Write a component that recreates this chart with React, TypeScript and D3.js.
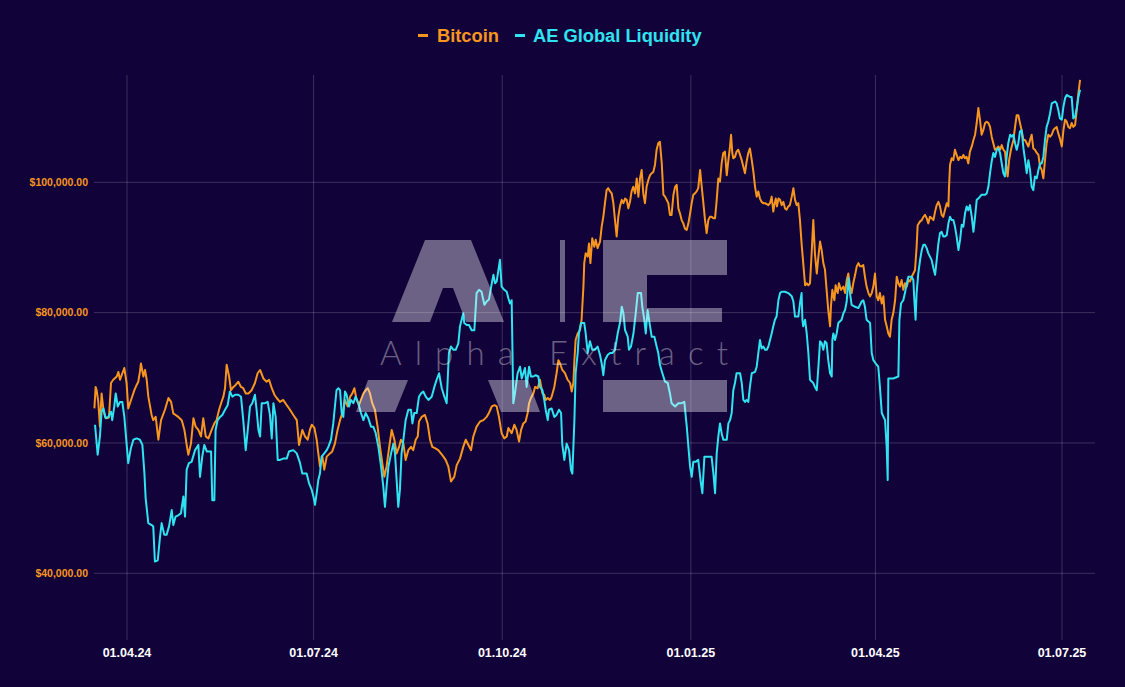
import React from "react";
import * as d3 from "d3";

// ---- data (day offsets from 01.04.2024, values in thousands of USD) ----
const btcSeries: [number, number][] = [
[-15.9,65.3],[-15.3,68.6],[-14.8,68.1],[-14.0,66.3],[-13.2,62.5],[-12.4,67.6],[-11.5,65.1],[-10.7,64.0],[-9.9,63.8],[-8.8,63.9],[-7.8,69.2],[-6.7,69.7],[-5.0,70.2],[-4.2,70.9],[-3.4,69.7],[-2.6,70.4],[-1.3,71.5],[-0.2,69.2],[0.6,65.3],[2.3,66.9],[3.6,68.1],[4.7,68.9],[5.5,69.4],[6.3,70.9],[6.8,72.2],[8.0,70.2],[8.8,71.2],[9.6,69.7],[10.4,67.1],[12.0,64.3],[12.8,63.5],[14.0,64.0],[15.3,60.5],[16.6,63.5],[18.5,65.1],[20.2,66.9],[21.5,66.3],[22.6,64.5],[23.7,64.3],[25.0,64.0],[26.7,63.5],[28.0,62.0],[29.1,59.7],[29.9,58.2],[31.2,59.9],[32.4,63.8],[33.5,62.5],[34.8,62.0],[36.1,61.0],[37.2,63.8],[38.4,61.0],[39.7,60.7],[41.3,62.0],[42.6,63.0],[43.7,63.5],[44.9,65.1],[45.9,66.1],[47.0,67.1],[47.8,68.4],[48.6,72.0],[49.8,70.2],[50.7,68.1],[51.9,68.6],[53.0,68.9],[54.3,69.4],[55.6,68.6],[56.7,68.4],[57.9,67.6],[59.2,67.6],[60.8,68.1],[62.4,69.2],[63.7,70.7],[64.9,71.2],[66.5,69.9],[68.1,69.4],[69.3,69.7],[70.6,68.4],[71.9,67.4],[73.0,66.9],[74.6,66.3],[76.2,66.6],[77.9,65.8],[79.5,65.1],[81.1,64.3],[82.8,63.5],[83.9,59.7],
[85.5,62.0],[86.8,61.0],[88.1,60.5],[89.2,62.0],[90.1,62.8],[91.4,62.3],[92.5,60.5],[93.3,58.4],[94.1,56.4],[95.3,57.9],[96.2,55.9],[97.4,57.9],[99.0,58.4],[100.1,58.7],[101.4,59.9],[102.7,62.0],[103.9,63.5],[105.5,65.1],[106.3,66.6],[107.6,65.6],[108.8,67.1],[109.9,67.6],[110.9,68.4],[112.0,66.6],[113.1,65.8],[114.4,66.9],[115.3,67.6],[116.4,68.1],[117.4,68.4],[118.5,67.6],[119.6,66.1],[120.9,65.1],[122.2,62.5],[123.4,59.4],[124.5,56.9],[125.5,54.8],[126.6,56.4],[127.8,59.2],[129.1,62.0],[130.4,60.5],[131.5,58.4],[132.7,59.4],[133.6,60.5],[134.8,59.9],[135.9,57.4],[137.2,58.9],[138.5,59.4],[139.6,58.9],[140.8,60.5],[141.8,61.0],[142.4,63.3],[143.7,64.0],[145.3,64.3],[146.6,63.0],[147.8,60.5],[148.9,59.4],[150.2,59.2],[151.8,58.9],[153.1,58.4],[154.3,57.9],[155.4,57.4],[156.7,56.4],[158.0,54.1],[159.6,54.8],[160.8,56.6],[162.4,57.6],[164.0,59.4],[165.2,60.5],[166.5,59.7],[167.8,58.9],[168.9,61.0],[170.5,62.5],[172.2,63.3],[173.8,63.5],[175.4,64.0],[176.5,64.6],[177.9,65.6],[179.2,65.8],[180.3,65.6],[181.4,64.0],[182.7,61.5],[184.0,60.7],[185.2,61.0],
[186.0,62.3],[187.6,61.5],[188.9,62.8],[190.0,62.0],[191.2,60.2],[192.2,62.0],[193.3,63.0],[194.4,63.3],[195.4,64.6],[196.1,66.1],[197.0,66.9],[198.2,67.6],[199.0,68.6],[200.3,68.4],[201.4,69.7],[202.6,67.6],[203.5,67.4],[204.2,66.6],[205.2,66.9],[206.3,66.6],[207.1,67.1],[208.4,68.6],[209.5,70.7],[210.4,72.7],[211.2,72.2],[212.3,71.2],[213.6,70.7],[214.9,69.7],[216.1,69.2],[216.9,67.9],[217.7,69.2],[218.2,72.7],[218.8,75.8],[219.8,76.8],[220.9,77.3],[221.7,78.9],[222.6,84.0],[223.0,87.6],[223.7,89.1],[224.7,88.6],[225.3,90.6],[226.0,87.6],[226.9,91.4],[227.9,90.1],[228.6,91.2],[229.5,89.9],[230.7,90.9],[231.5,93.2],[232.3,94.7],[233.1,96.8],[233.9,98.8],[234.7,99.1],[235.6,98.6],[236.4,98.3],[237.2,96.8],[238.0,94.2],[238.8,91.7],[239.6,94.7],[240.4,96.3],[241.3,97.3],[242.1,96.8],[242.9,97.5],[243.7,97.3],[244.5,96.0],[245.3,97.0],[246.1,98.6],[246.9,99.3],[247.8,98.3],[248.6,100.6],[249.4,97.8],[250.2,100.6],[251.0,101.9],[251.8,98.3],[252.6,96.8],[253.4,99.3],[254.3,100.4],[255.1,101.1],[255.9,101.4],[256.7,101.6],[257.5,102.7],[258.3,105.0],[259.1,106.0],[259.9,106.2],[260.8,102.9],[261.6,98.1],[262.4,97.8],[263.2,97.3],[264.0,96.8],[264.8,95.0],[265.6,95.0],[266.5,98.1],[267.3,99.3],[268.1,99.6],[268.9,96.0],[269.7,95.2],[270.5,94.2],[271.3,93.7],[272.1,92.9],[273.0,92.7],[273.8,93.7],[274.6,95.2],[275.4,96.8],[276.2,98.1],[277.0,98.3],[277.8,98.6],[278.6,99.1],[279.5,101.9],[280.3,99.3],[281.1,96.8],[281.9,94.2],[282.7,92.2],[283.5,94.2],[284.3,94.7],[285.1,94.7],[286.0,94.5],[286.8,94.5],
[287.6,97.3],[288.4,100.6],[289.2,100.1],[290.0,102.9],[290.8,104.5],[291.6,104.7],[292.5,101.1],[293.3,103.4],[294.1,105.5],[294.6,107.3],[295.2,104.5],[295.7,103.7],[296.5,103.9],[297.3,104.7],[298.1,105.0],[299.0,104.2],[299.8,103.4],[300.6,102.4],[301.4,101.4],[302.2,103.2],[303.0,104.5],[303.8,105.2],[304.7,103.4],[305.5,101.6],[306.3,99.3],[307.1,97.8],[307.9,98.6],[308.7,97.5],[309.5,97.0],[310.3,96.8],[311.2,96.8],[312.8,96.5],[313.6,96.8],[314.4,97.8],[315.2,95.5],[315.7,96.5],[316.4,97.5],[317.0,96.3],[317.7,97.5],[318.5,97.3],[319.3,96.5],[320.1,97.0],[320.9,96.0],[321.7,95.8],[322.5,96.3],[323.3,96.5],[324.2,97.8],[325.0,99.1],[325.8,97.3],[326.6,96.5],[327.4,96.8],[328.2,94.2],[329.0,90.6],[329.8,87.6],[330.7,84.2],[331.5,84.5],[332.3,84.2],[333.1,84.5],[333.9,89.1],[334.7,94.2],[335.5,89.1],[336.4,86.0],[337.2,88.6],[338.0,90.9],[338.8,89.6],[339.6,87.6],[340.4,86.6],[341.2,83.5],[342.0,80.4],[342.9,77.9],[343.3,80.9],[344.0,83.5],[345.0,81.9],[345.6,84.2],[346.6,83.0],[347.2,84.5],[348.2,83.5],[349.4,84.0],[350.2,83.0],[351.0,85.0],[351.8,86.0],[352.6,84.0],[353.4,83.0],[354.2,84.5],[355.1,85.8],[355.9,87.1],[356.7,87.6],[357.5,87.1],[358.3,87.1],[359.1,87.3],[359.9,85.5],[360.7,84.0],[361.6,83.0],[362.4,82.5],[363.2,83.0],[364.0,84.0],[364.8,86.0],[365.6,82.5],[366.4,81.9],[367.2,83.0],[368.1,81.4],[368.9,82.5],[369.7,78.9],[370.5,77.9],[371.3,76.8],[372.1,76.3],[372.9,78.9],[373.7,79.9],[374.6,81.9],[375.4,85.5],[376.2,84.5],[377.0,84.0],[377.8,85.0],[378.6,83.5],[379.4,84.5],[380.3,84.0],[381.1,85.0],
[381.9,84.8],[382.7,85.5],[383.5,86.0],[384.3,86.5],[385.1,90.1],[385.6,93.4],[386.8,94.0],[387.6,94.2],[388.4,94.7],[389.2,95.0],[390.0,94.5],[390.8,93.7],[391.6,94.7],[392.4,94.5],[393.3,94.2],[394.1,95.5],[394.9,96.5],[395.7,97.0],[396.5,96.3],[397.3,95.0],[398.1,94.7],[398.9,95.7],[399.8,96.8],[400.6,96.3],[400.9,99.3],[401.4,102.7],[402.2,103.7],[403.0,103.4],[403.8,105.0],[404.6,104.2],[405.5,103.4],[406.3,103.9],[407.1,103.7],[407.9,104.2],[408.7,103.7],[409.5,103.9],[410.3,102.9],[411.1,104.7],[412.0,105.5],[412.8,106.5],[413.6,107.3],[414.4,109.1],[415.2,111.4],[416.0,109.6],[416.8,107.3],[417.6,108.0],[418.5,109.1],[419.3,109.3],[420.1,109.1],[420.9,108.5],[421.7,107.0],[422.5,106.0],[423.3,105.0],[424.2,105.2],[425.0,105.5],[425.8,105.0],[426.6,105.7],[427.4,105.0],[428.2,104.7],[429.0,101.9],[429.5,100.9],[430.2,103.4],[431.1,105.0],[432.3,106.5],[433.1,108.5],[433.9,110.3],[434.7,110.3],[435.5,109.1],[436.3,108.0],[437.2,106.5],[438.0,106.5],[438.8,106.0],[439.6,105.5],[440.4,106.5],[441.2,107.3],[442.0,105.2],[442.8,105.0],[443.7,104.5],[444.5,104.2],[445.3,102.4],[446.1,101.9],[446.9,100.6],[447.7,103.4],[448.5,106.0],[449.3,107.3],[450.2,107.0],[451.0,107.3],[451.8,108.0],[452.6,108.3],[453.4,108.5],[454.2,107.5],[455.0,106.7],[455.9,105.5],[456.7,108.0],[457.5,109.6],[458.3,109.3],[459.1,108.5],[459.9,108.3],[460.7,109.1],[461.5,108.5],[462.4,108.8],[463.2,111.1],[464.0,113.7],[464.8,115.7]
];

const liquiditySeries: [number, number][] = [
[-15.6,62.8],[-14.3,58.2],[-13.2,61.0],[-12.4,64.8],[-11.5,65.3],[-10.4,63.8],[-9.1,64.0],[-7.8,64.8],[-7.2,63.5],[-6.2,65.6],[-5.5,67.6],[-4.5,65.6],[-3.4,66.3],[-2.3,66.3],[-1.3,64.0],[-0.2,59.9],[0.6,56.9],[1.9,59.2],[3.1,60.5],[4.7,60.7],[6.3,60.5],[7.5,59.7],[8.5,55.3],[9.1,51.5],[10.4,47.7],[12.0,47.4],[12.8,47.2],[13.6,41.8],[15.0,42.0],[16.1,45.6],[16.9,47.7],[18.2,45.9],[19.3,45.9],[20.5,47.2],[21.8,49.7],[22.6,47.4],[23.7,48.7],[25.0,48.9],[26.3,49.2],[27.5,51.8],[28.3,48.7],[29.1,55.9],[30.2,56.9],[31.5,57.1],[33.2,58.9],[34.8,59.7],[35.6,54.8],[36.7,57.9],[37.7,59.7],[38.9,58.7],[40.0,58.7],[41.0,58.7],[41.6,51.2],[42.6,51.2],[43.2,62.0],[44.2,63.5],[45.4,64.0],[46.5,64.3],[47.8,65.1],[49.1,65.8],[50.2,67.9],[51.4,67.1],[52.7,67.4],[54.3,67.4],[55.6,67.1],[56.7,63.5],[57.9,58.9],[58.9,62.0],[60.0,65.6],[61.1,66.1],[62.4,67.4],[63.2,65.1],[64.1,62.0],[64.9,61.0],[65.7,66.1],[67.3,66.1],[68.6,66.3],[69.7,64.3],[70.6,60.7],[71.4,66.1],[72.5,64.0],[73.5,57.4],[74.6,57.4],[76.2,57.6],[77.9,57.6],[79.0,58.7],[81.1,58.9],[82.8,58.4],[84.4,56.9],[85.5,55.3],
[86.5,55.3],[87.6,55.3],[88.8,53.8],[90.1,52.8],[90.9,51.8],[91.7,50.5],[92.5,52.3],[93.3,54.3],[94.1,55.3],[94.9,57.9],[96.2,58.4],[97.4,58.9],[98.2,59.4],[99.5,60.5],[100.6,63.0],[101.4,65.6],[102.2,68.1],[103.1,68.4],[103.9,68.1],[104.7,64.6],[105.5,64.0],[106.3,67.9],[107.1,67.4],[108.3,65.6],[109.2,66.6],[110.4,66.1],[111.5,67.1],[112.8,66.1],[114.1,64.6],[115.3,63.5],[116.4,64.6],[117.7,63.8],[119.0,62.5],[120.1,62.5],[121.3,61.5],[122.6,59.4],[123.9,56.4],[125.0,53.3],[125.8,50.2],[126.6,53.3],[127.5,56.4],[128.8,58.4],[129.9,59.9],[130.7,58.4],[131.5,54.3],[132.3,50.2],[133.1,52.8],[133.9,58.4],[134.8,60.5],[135.9,63.5],[137.2,65.1],[138.5,65.1],[139.2,63.0],[140.1,64.6],[141.3,64.6],[142.4,67.1],[143.4,67.6],[144.5,67.9],[145.7,67.1],[147.0,66.6],[148.6,67.1],[149.9,68.6],[151.0,69.7],[152.2,70.7],[153.5,68.4],[154.8,67.1],[155.9,66.1],[156.4,69.7],[157.0,73.8],[158.0,74.8],[159.2,74.3],[160.3,74.3],[161.6,75.3],[162.4,77.9],[163.2,78.9],[164.0,79.9],[164.5,78.4],[165.7,78.1],[166.8,78.1],[168.1,77.3],[169.4,77.3],[170.5,83.0],[171.7,83.5],[172.9,83.2],[174.3,81.2],[175.4,81.7],[176.5,82.0],[177.9,84.5],[178.7,85.8],[179.5,84.5],[180.3,84.8],[181.4,87.1],[181.9,88.1],[182.7,84.0],[184.0,83.5],[185.2,83.2],[186.0,82.2],[186.8,81.4],
[187.6,81.9],[188.4,66.1],[189.2,67.6],[190.5,70.7],[191.7,71.7],[192.5,69.9],[193.3,70.7],[194.1,71.5],[194.9,68.6],[196.1,71.7],[197.0,70.2],[198.2,70.2],[199.3,70.4],[200.6,70.2],[201.4,68.6],[202.6,68.1],[203.5,66.6],[204.2,65.1],[205.2,63.5],[205.8,65.1],[207.1,65.3],[208.4,64.0],[209.5,64.3],[210.7,65.1],[211.7,64.6],[212.3,59.7],[213.3,57.4],[214.4,59.9],[215.6,58.9],[216.5,55.9],[217.2,55.3],[218.2,63.5],[218.8,70.7],[219.8,73.8],[220.4,76.8],[221.4,78.4],[223.0,78.4],[223.7,76.8],[224.7,73.8],[225.8,75.6],[226.9,74.3],[228.2,74.3],[229.5,74.8],[230.7,73.5],[231.5,72.2],[232.3,70.4],[233.1,72.7],[234.4,73.5],[235.6,73.8],[236.7,73.8],[238.0,74.3],[239.3,76.8],[240.4,78.4],[241.3,80.9],[242.1,79.9],[242.9,77.3],[244.2,76.3],[244.8,74.3],[245.8,74.8],[247.0,76.8],[248.1,79.9],[249.1,83.0],[250.7,83.0],[251.3,80.9],[252.3,78.9],[253.0,76.8],[253.9,80.4],[255.1,77.9],[255.9,76.3],[257.2,76.3],[258.3,74.8],[259.1,73.8],[259.9,72.0],[261.1,70.7],[262.4,69.4],[263.7,69.2],[264.8,67.6],[265.6,66.1],[267.3,65.6],[268.9,66.1],[270.5,66.1],[271.8,66.3],[273.0,62.5],[273.8,59.4],[274.6,56.4],[275.4,54.8],[276.2,57.1],[277.3,57.1],[278.6,57.4],[279.9,53.8],[280.6,52.3],[281.6,57.9],[282.7,57.9],[283.8,57.9],[285.1,57.9],[286.0,55.3],[286.8,52.3],
[287.6,58.4],[288.4,61.0],[289.2,63.0],[290.0,61.5],[290.8,60.5],[292.5,60.5],[293.3,63.0],[294.1,63.5],[294.9,64.6],[295.7,68.1],[296.5,69.2],[297.3,70.7],[299.0,70.7],[299.8,69.2],[300.6,66.6],[301.4,66.3],[302.2,66.6],[303.0,66.3],[303.8,68.6],[304.7,70.7],[306.3,70.9],[307.1,71.7],[307.9,73.8],[308.7,75.8],[309.5,74.5],[310.3,74.8],[311.2,74.3],[312.0,74.3],[312.8,74.8],[313.6,75.8],[314.4,76.8],[315.2,77.9],[316.0,78.9],[316.8,79.4],[317.7,81.9],[318.5,83.0],[319.3,83.2],[320.9,83.2],[322.5,83.0],[324.2,82.5],[325.0,81.7],[325.8,79.4],[327.4,79.4],[328.2,81.4],[329.0,83.0],[329.4,78.9],[329.8,77.9],[330.7,78.9],[331.5,76.8],[332.3,73.8],[333.1,69.7],[334.7,69.2],[335.5,68.6],[336.4,68.1],[337.2,71.7],[338.0,75.6],[338.8,75.3],[339.6,74.3],[340.4,75.6],[341.2,75.3],[342.0,72.7],[342.9,70.7],[343.7,70.2],[344.0,75.8],[344.5,76.8],[345.3,75.8],[346.1,76.8],[346.9,78.4],[348.5,78.9],[349.4,79.9],[350.2,80.4],[351.0,81.7],[351.8,85.3],[352.6,83.0],[353.4,81.2],[355.1,80.9],[356.7,80.7],[357.5,81.2],[358.3,81.7],[359.1,81.9],[359.9,80.9],[360.7,78.9],[362.4,78.4],[363.2,73.8],[364.0,72.7],[365.6,72.0],[366.4,71.7],[367.2,68.6],[368.1,64.6],[369.7,63.5],[370.5,59.4],[371.0,54.3],[371.3,69.9],[373.7,69.9],[376.2,70.2],[376.7,78.9],[377.5,81.4],[378.6,81.9],[379.4,83.0],[380.3,84.5],[381.1,85.5],[382.7,85.5],[383.5,85.0],
[384.0,81.9],[384.6,78.9],[385.1,83.0],[385.9,86.0],[386.8,88.1],[387.6,89.6],[388.4,90.4],[389.2,90.4],[390.0,89.9],[390.8,89.1],[391.6,88.6],[392.4,88.1],[393.3,86.8],[394.1,85.8],[394.9,88.1],[395.7,90.6],[396.5,92.2],[397.3,92.4],[398.1,91.7],[398.9,91.7],[399.8,91.9],[400.6,93.7],[401.4,94.7],[402.2,94.2],[403.0,94.2],[403.8,93.2],[404.6,91.7],[405.5,89.6],[406.3,91.2],[407.1,93.5],[407.9,93.2],[408.7,95.2],[409.5,96.3],[410.3,95.7],[411.1,96.5],[412.0,94.7],[412.8,92.4],[413.6,94.7],[414.4,97.3],[415.2,97.5],[416.8,98.1],[418.5,98.1],[419.3,98.3],[420.1,99.3],[420.9,101.4],[421.7,103.2],[422.5,104.5],[423.3,103.9],[424.2,105.0],[425.0,105.2],[425.8,104.5],[426.6,102.9],[427.4,101.4],[428.2,100.9],[429.0,103.9],[429.8,106.0],[430.7,107.3],[431.5,107.0],[432.3,107.3],[433.1,106.0],[433.9,105.0],[434.7,106.0],[435.5,107.8],[436.3,108.0],[437.2,105.2],[438.0,103.4],[438.8,101.4],[439.6,103.4],[440.4,101.9],[441.2,99.3],[442.0,98.8],[442.8,100.9],[443.7,100.6],[444.5,101.9],[445.3,102.9],[446.1,102.9],[446.9,103.9],[447.7,106.5],[448.5,108.5],[449.3,109.3],[450.2,110.6],[451.0,112.1],[452.6,112.4],[453.4,112.1],[454.2,111.1],[455.0,109.8],[455.9,109.6],[456.7,111.6],[457.5,112.9],[458.3,113.4],[459.9,113.1],[460.7,113.1],[461.5,109.8],[462.4,110.1],[463.2,111.4],[464.0,113.1],[464.8,114.2]
];

const xTickDates = ["2024-04-01", "2024-07-01", "2024-10-01", "2025-01-01", "2025-04-01", "2025-07-01"];
const xTickLabels = ["01.04.24", "01.07.24", "01.10.24", "01.01.25", "01.04.25", "01.07.25"];
const yTicks = [40000, 60000, 80000, 100000];
const seriesNames = ["Bitcoin", "AE Global Liquidity"];

const ORANGE = "#f7961e";
const CYAN = "#2fe3f0";
const BG = "#12023a";
const DAY_MS = 86400000;

export default function App() {
  const x = d3
    .scaleUtc()
    .domain([new Date(xTickDates[0]), new Date(xTickDates[xTickDates.length - 1])])
    .range([127, 1062]);
  const y = d3.scaleLinear().domain([40000, 100000]).range([573.3, 182.3]);
  const t0 = new Date(xTickDates[0]).getTime();

  const line = d3
    .line<[number, number]>()
    .x((d) => x(new Date(t0 + d[0] * DAY_MS)))
    .y((d) => y(d[1] * 1000));

  const fmt = d3.format("$,.2f");
  const plotLeft = 94, plotRight = 1095, plotTop = 75, plotBottom = 640;

  const wm = "rgba(255,255,255,0.38)";

  return (
    <svg
      width={1125}
      height={687}
      style={{ position: "absolute", left: 0, top: 0, display: "block" }}
      fontFamily="'Liberation Sans', Arial, sans-serif"
    >
      <rect x={0} y={0} width={1125} height={687} fill={BG} />

      {/* grid */}
      {yTicks.map((t) => (
        <line key={"h" + t} x1={plotLeft} x2={plotRight} y1={y(t)} y2={y(t)} stroke="rgba(255,255,255,0.18)" strokeWidth={1} />
      ))}
      {xTickDates.map((d) => (
        <line key={"v" + d} x1={x(new Date(d))} x2={x(new Date(d))} y1={plotTop} y2={plotBottom} stroke="rgba(255,255,255,0.18)" strokeWidth={1} />
      ))}

      {/* y labels */}
      {yTicks.map((t) => (
        <text key={"yl" + t} x={88} y={y(t)} dy="0.35em" textAnchor="end" fill={ORANGE} fontSize={10.5} fontWeight="bold">
          {fmt(t)}
        </text>
      ))}

      {/* x labels */}
      {xTickDates.map((d, i) => (
        <text key={"xl" + d} x={x(new Date(d))} y={656.5} textAnchor="middle" fill="#ffffff" fontSize={12.5} fontWeight="bold">
          {xTickLabels[i]}
        </text>
      ))}

      {/* series */}
      <path d={line(btcSeries) || ""} fill="none" stroke={ORANGE} strokeWidth={2} strokeLinejoin="round" />
      <path d={line(liquiditySeries) || ""} fill="none" stroke={CYAN} strokeWidth={2} strokeLinejoin="round" />

      {/* watermark */}
      <g fill={wm}>
        <path
          fillRule="evenodd"
          d="M392,322 L425,240 L471,240 L504,322 Z M430,322 L443,288 L453,288 L466,322 Z"
        />
        <path d="M368,380 L408,380 L395,412 L356,412 Z" />
        <path d="M488,380 L528,380 L540,412 L501,412 Z" />
        <rect x={560} y={240} width={5} height={82} />
        <path d="M603,240 L727,240 L727,275 L647,275 L647,308 L722,308 L722,322 L603,322 Z" />
        <rect x={603} y={380} width={124} height={32} />
        <text x={380} y={365} fontFamily="Lato, 'Open Sans', sans-serif" fontWeight={300} fontSize={33} textLength={348} lengthAdjust="spacing">
          Alpha Extract
        </text>
      </g>

      {/* legend */}
      <rect x={418} y={34} width={10} height={3} fill={ORANGE} />
      <text x={437} y={42} fill={ORANGE} fontSize={18.3} fontWeight="bold">{seriesNames[0]}</text>
      <rect x={515} y={34} width={10} height={3} fill={CYAN} />
      <text x={533} y={42} fill={CYAN} fontSize={18.3} fontWeight="bold">{seriesNames[1]}</text>
    </svg>
  );
}
